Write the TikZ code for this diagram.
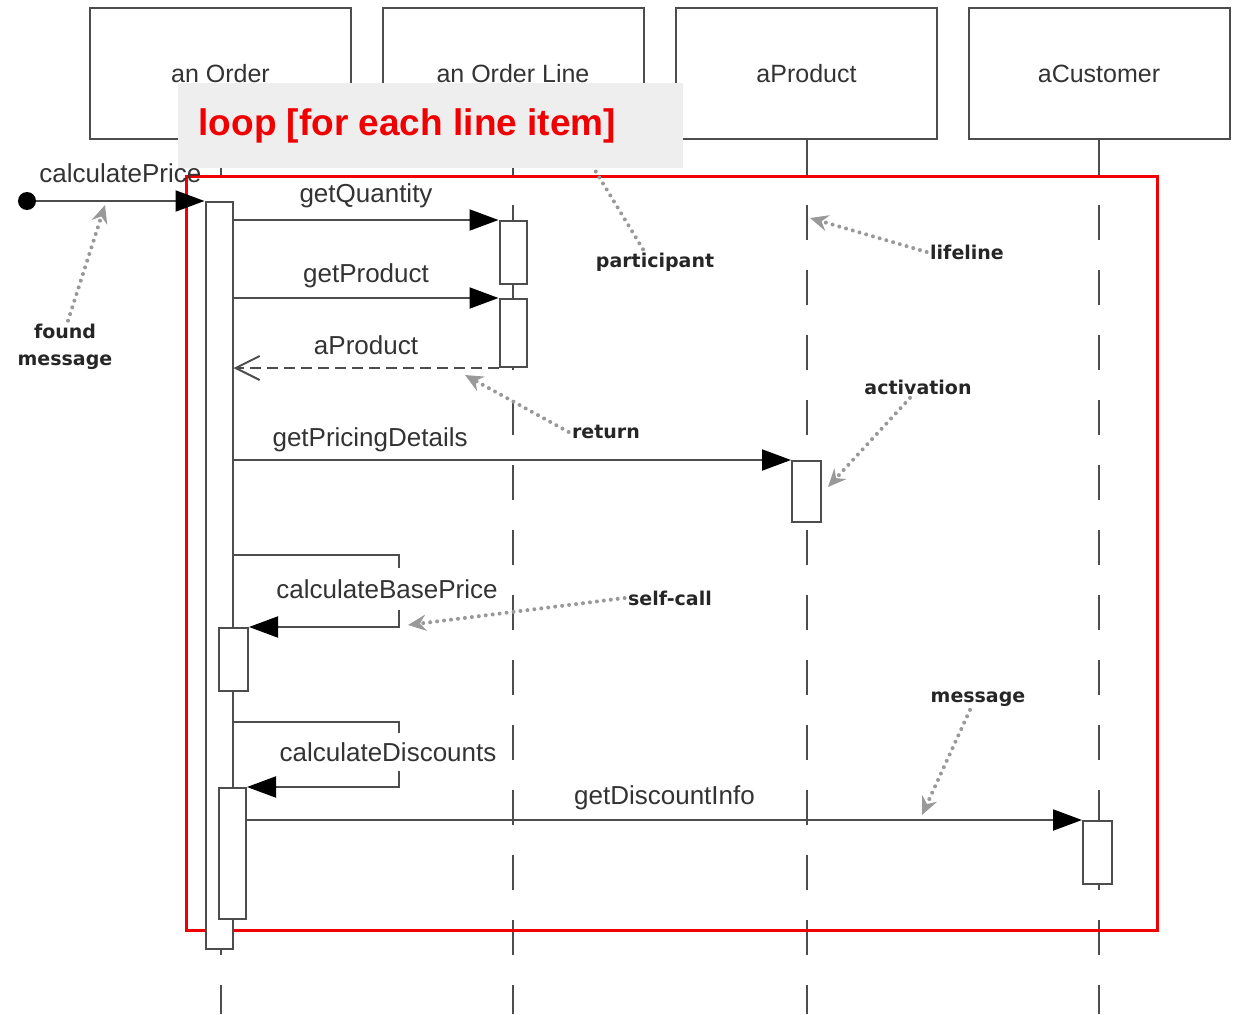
\documentclass[tikz,border=0pt]{standalone}
\usepackage{fontspec}
\usetikzlibrary{arrows.meta}
\newfontfamily\msgfont{Liberation Sans}
\newfontfamily\notefont{DejaVu Sans}
\definecolor{linegray}{HTML}{4D4D4D}
\definecolor{textgray}{HTML}{333333}
\definecolor{pointgray}{HTML}{999999}
\definecolor{loopgray}{HTML}{EEEEEE}
\definecolor{loopred}{HTML}{F00000}

\begin{document}
\begin{tikzpicture}[x=1pt,y=-1pt,
  party/.style={draw=linegray, line width=2pt, minimum width=261pt,
    minimum height=131pt, inner sep=0pt, text=textgray,
    font=\msgfont\fontsize{25}{28}\selectfont},
  life/.style={draw=linegray, line width=2pt, dash pattern=on 35pt off 30pt},
  act/.style={draw=linegray, fill=white, line width=2pt, minimum width=27pt,
    inner sep=0pt, anchor=north},
  msg/.style={draw=linegray, line width=2pt,
    -{Triangle[length=29pt,width=21pt,color=black]}},
  ret/.style={draw=linegray, line width=2pt, dash pattern=on 11pt off 6pt,
    -{Straight Barb[length=24pt,width=24pt,line width=2pt]}},
  msglbl/.style={text=textgray, font=\msgfont\fontsize{26}{28}\selectfont},
  note/.style={text=black!85, align=center,
    font=\notefont\bfseries\fontsize{19}{27}\selectfont},
  pointer/.style={draw=pointgray, line width=4pt, line cap=round,
    dash pattern=on 0pt off 7pt,
    -{Stealth[length=18pt,width=16pt,inset=6pt,color=pointgray]}},
  loopbg/.style={fill=loopgray, minimum width=505pt, minimum height=85pt,
    inner sep=0pt, anchor=north west},
  looptxt/.style={text=loopred, font=\msgfont\bfseries\fontsize{37}{40}\selectfont}]
  \useasboundingbox (0,0) rectangle (1236,1014);

  % participants and lifelines
  \foreach \n/\x/\t in {orderBox/220.5/an Order, lineBox/513/an Order Line,
      prodBox/806.5/aProduct, custBox/1099/aCustomer}
    \node[party] (\n) at (\x,73.5) {\t};
  \foreach \n in {orderBox, lineBox, prodBox, custBox}
    \draw[life] (\n.south) -- (\n.south |- 0,1014);

  % loop frame
  \draw[loopred, line width=3pt] (186,176) rectangle (1157,930);

  % activations
  \node[act, minimum height=747pt] (ordAct) at (219,201) {};
  \node[act, minimum height=63pt] (lineAct1) at (lineBox.south |- 0,220) {};
  \node[act, minimum height=68pt] (lineAct2) at (lineBox.south |- 0,298) {};
  \node[act, minimum height=61pt, minimum width=29pt] (prodAct) at (prodBox.south |- 0,460) {};
  \node[act, minimum height=63pt, minimum width=29pt] (baseAct) at (233.5,627) {};
  \node[act, minimum height=131pt] (discAct) at (232.5,787) {};
  \node[act, minimum height=63pt, minimum width=29pt] (custAct) at (1097.5,820) {};

  % messages
  \node[circle, fill=black, minimum size=18pt, inner sep=0pt] (found) at (27,201) {};
  \draw[msg] (found) -- (ordAct.north west)
    node[midway, above=14pt, msglbl] {calculatePrice};
  \draw[msg] (ordAct.east |- lineAct1.north) -- (lineAct1.north west)
    node[midway, above=8pt, msglbl] {getQuantity};
  \draw[msg] (ordAct.east |- lineAct2.north) -- (lineAct2.north west)
    node[midway, above=6pt, msglbl] {getProduct};
  \draw[ret] (lineAct2.south west) -- (ordAct.east |- lineAct2.south)
    node[midway, above=9pt, msglbl] {aProduct};
  \draw[msg] (ordAct.east |- prodAct.north) -- (prodAct.north west)
    node[pos=0.245, above=4pt, msglbl] {getPricingDetails};
  \coordinate (baseTop) at (399,555);
  \draw[msg] (ordAct.east |- baseTop) -- (baseTop) -- (baseTop |- baseAct.north)
    -- (baseAct.north east);
  \node[msglbl, fill=white, inner ysep=11pt, inner xsep=2pt] (baseLbl) at (387,589) {calculateBasePrice};
  \coordinate (discTop) at (399,722);
  \draw[msg] (ordAct.east |- discTop) -- (discTop) -- (discTop |- discAct.north)
    -- (discAct.north east);
  \node[msglbl, fill=white, inner ysep=9pt, inner xsep=2pt] (discLbl) at (388,752) {calculateDiscounts};
  \draw[msg] (discAct.east |- custAct.north) -- (custAct.north west)
    node[midway, above=6pt, msglbl] {getDiscountInfo};

  % notes
  \node[note] (foundNote) at (65,347) {found\\message};
  \coordinate (foundTip) at (105,205);
  \draw[pointer] ([xshift=3pt]foundNote.north) -- (foundTip);
  \node[note] (partNote) at (655,262) {participant};
  \coordinate (partTip) at (576,139);
  \draw[pointer] ([xshift=-12pt]partNote.north) -- (partTip);
  \node[note] (lifeNote) at (967,252) {lifeline};
  \coordinate (lifeTip) at (810,218);
  \draw[pointer] (lifeNote.west) -- (lifeTip);
  \node[note] (retNote) at (606,432) {return};
  \coordinate (retTip) at (465,375);
  \draw[pointer] (retNote.west) -- (retTip);
  \node[note] (actNote) at (918,387) {activation};
  \coordinate (actTip) at (828,487);
  \draw[pointer] ([xshift=-8pt]actNote.south) -- (actTip);
  \node[note] (selfNote) at (670,598) {self-call};
  \coordinate (selfTip) at (408,625);
  \draw[pointer] (selfNote.west) -- (selfTip);
  \node[note] (msgNote) at (978,699) {message};
  \coordinate (msgTip) at (922,815);
  \draw[pointer] ([xshift=-8pt]msgNote.south) -- (msgTip);

  % loop label
  \node[loopbg] (loopBg) at (178,83) {};
  \node[looptxt, anchor=west] (loopTxt) at ([xshift=17pt]loopBg.west) {loop [for each line item]};
\end{tikzpicture}
\end{document}
